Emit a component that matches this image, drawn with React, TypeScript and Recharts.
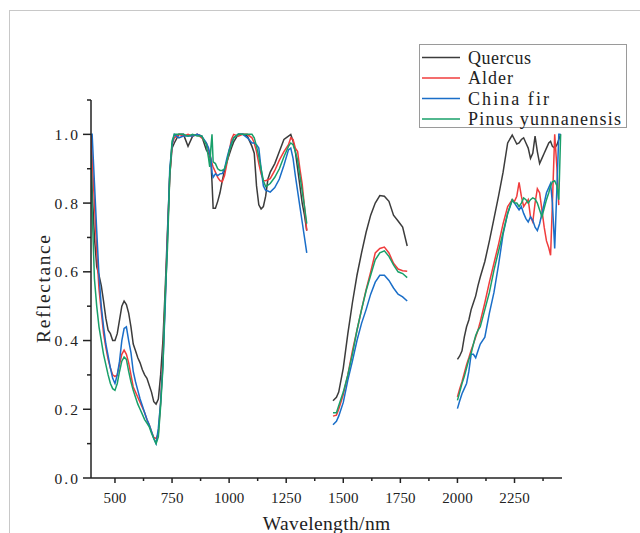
import React from 'react';
import { LineChart, Line, XAxis, YAxis, Legend, Label } from 'recharts';

const seriesKeys = ['quercus', 'alder', 'chinaFir', 'pinus'];
const seriesNames = ['Quercus', 'Alder', 'China fir', 'Pinus yunnanensis'];
const seriesColors = ['#3c3c3c', '#f03c3c', '#1a6ec8', '#18a06a'];

// Segment 1: 395 - 1340 nm
const seg1Wavelength = [
  395, 400, 410, 420, 430, 440, 450, 460, 470, 480,
  490, 500, 510, 520, 530, 540, 550, 560, 570, 580,
  590, 600, 610, 620, 630, 640, 650, 660, 670, 680,
  690, 700, 710, 720, 730, 740, 750, 760, 780, 800,
  820, 840, 860, 880, 900, 910, 915, 920, 925, 930,
  940, 950, 960, 970, 980, 990, 1000, 1010, 1020, 1040,
  1060, 1080, 1100, 1110, 1120, 1130, 1140, 1150, 1160, 1170,
  1180, 1200, 1220, 1240, 1260, 1270, 1280, 1290, 1300, 1310,
  1320, 1330, 1340,
];
const seg1Quercus = [
  1.0, 0.84, 0.7, 0.615, 0.59, 0.56, 0.515, 0.465, 0.43, 0.42,
  0.4, 0.4, 0.42, 0.46, 0.5, 0.515, 0.505, 0.48, 0.44, 0.39,
  0.37, 0.35, 0.335, 0.315, 0.3, 0.29, 0.27, 0.25, 0.222, 0.215,
  0.23, 0.3, 0.4, 0.55, 0.72, 0.88, 0.96, 0.975, 1.0, 1.0,
  0.965, 0.995, 1.0, 0.995, 0.955, 0.945, 0.935, 0.925, 0.86, 0.785,
  0.785, 0.805, 0.83, 0.865, 0.895, 0.92, 0.94, 0.96, 0.978, 1.0,
  1.0, 0.995, 0.965, 0.945, 0.85, 0.795, 0.783, 0.79, 0.82, 0.87,
  0.89, 0.915, 0.95, 0.985, 0.995, 1.0, 0.98, 0.95, 0.9, 0.85,
  0.8, 0.765, 0.72,
];
const seg1Alder = [
  1.0, 0.93, 0.8, 0.66, 0.55, 0.485, 0.42, 0.38, 0.345, 0.32,
  0.3, 0.295, 0.3, 0.33, 0.36, 0.372, 0.36, 0.335, 0.3, 0.265,
  0.25, 0.235, 0.22, 0.205, 0.19, 0.17, 0.155, 0.135, 0.118, 0.115,
  0.13, 0.22, 0.35, 0.52, 0.7, 0.88, 0.97, 0.99, 1.0, 0.995,
  1.0, 0.995, 1.0, 0.99, 0.975, 0.955, 0.94, 0.93, 0.915, 0.905,
  0.89, 0.875, 0.865, 0.862, 0.88, 0.915, 0.95, 0.985, 1.0, 0.995,
  1.0, 1.0, 0.99, 0.975, 0.95, 0.915, 0.885, 0.866, 0.865, 0.868,
  0.871, 0.895, 0.925, 0.95, 0.97, 0.99, 0.985, 0.96, 0.95, 0.9,
  0.855, 0.79, 0.72,
];
const seg1ChinaFir = [
  1.0, 1.0, 0.86, 0.72, 0.59, 0.5, 0.44, 0.39, 0.355, 0.32,
  0.29, 0.275, 0.3, 0.34, 0.4, 0.435, 0.44, 0.4, 0.365, 0.31,
  0.28, 0.255, 0.23, 0.21, 0.19, 0.17, 0.155, 0.135, 0.115, 0.1,
  0.145, 0.22, 0.33, 0.5, 0.7, 0.9, 0.97, 1.0, 0.99, 0.995,
  0.995, 0.995, 1.0, 0.995, 0.975, 0.96, 0.945, 0.93, 0.89, 0.875,
  0.885, 0.88, 0.885, 0.886, 0.9, 0.93, 0.955, 0.975, 0.99, 1.0,
  1.0, 0.99, 0.975, 0.975, 0.97, 0.96, 0.9, 0.85, 0.837, 0.835,
  0.832, 0.845, 0.87, 0.91, 0.955, 0.96, 0.93, 0.88, 0.835, 0.79,
  0.745, 0.7, 0.655,
];
const seg1Pinus = [
  0.94, 0.78, 0.58, 0.5, 0.44, 0.4, 0.36, 0.33, 0.3, 0.275,
  0.26, 0.255, 0.275, 0.31, 0.34, 0.352, 0.345, 0.31, 0.28, 0.255,
  0.235, 0.215, 0.2, 0.185, 0.17, 0.16, 0.149, 0.13, 0.115, 0.1,
  0.12, 0.21, 0.32, 0.53, 0.67, 0.88, 0.98, 1.0, 1.0, 1.0,
  0.995, 1.0, 0.995, 0.995, 0.97, 0.93, 0.905, 0.96, 1.0, 0.92,
  0.915, 0.9, 0.895, 0.895, 0.9, 0.92, 0.95, 0.97, 0.99, 1.0,
  1.0, 1.0, 1.0, 0.99, 0.965, 0.935, 0.9, 0.865, 0.848, 0.852,
  0.857, 0.875, 0.9, 0.935, 0.965, 0.975, 0.97, 0.95, 0.925, 0.88,
  0.835, 0.79, 0.74,
];

// Segment 2: 1455 - 1780 nm
const seg2Wavelength = [1455, 1470, 1480, 1500, 1520, 1540, 1560, 1580, 1600, 1620, 1640, 1660, 1680, 1700, 1720, 1740, 1760, 1780];
const seg2Quercus = [0.225, 0.235, 0.25, 0.32, 0.42, 0.51, 0.59, 0.655, 0.715, 0.765, 0.8, 0.822, 0.82, 0.805, 0.765, 0.748, 0.73, 0.675];
const seg2Alder = [0.18, 0.183, 0.2, 0.243, 0.3, 0.37, 0.43, 0.49, 0.548, 0.6, 0.655, 0.668, 0.672, 0.655, 0.625, 0.608, 0.603, 0.602];
const seg2ChinaFir = [0.155, 0.165, 0.18, 0.22, 0.285, 0.34, 0.4, 0.45, 0.49, 0.535, 0.57, 0.59, 0.59, 0.575, 0.553, 0.535, 0.527, 0.515];
const seg2Pinus = [0.19, 0.19, 0.21, 0.25, 0.3, 0.36, 0.43, 0.49, 0.545, 0.59, 0.635, 0.655, 0.661, 0.645, 0.62, 0.6, 0.595, 0.583];

// Segment 3: 2000 - 2452 nm
const seg3Wavelength = [
  2000, 2010, 2020, 2030, 2040, 2050, 2060, 2070, 2080, 2090,
  2100, 2120, 2140, 2160, 2180, 2200, 2220, 2240, 2250, 2260,
  2270, 2280, 2290, 2300, 2310, 2320, 2330, 2340, 2350, 2360,
  2370, 2380, 2390, 2400, 2408, 2416, 2426, 2436, 2444, 2452,
];
const seg3Quercus = [
  0.345, 0.355, 0.37, 0.41, 0.44, 0.46, 0.49, 0.51, 0.53, 0.56,
  0.585, 0.63, 0.69, 0.755, 0.82, 0.89, 0.975, 0.998, 0.985, 0.972,
  0.975, 0.985, 0.99, 0.975, 0.96, 0.93, 0.945, 0.995, 0.95, 0.915,
  0.93, 0.945, 0.96, 0.975, 0.98, 0.965, 0.96, 0.97, 0.985, 1.0,
];
const seg3Alder = [
  0.236, 0.26, 0.28, 0.305, 0.33, 0.35, 0.372, 0.39, 0.41, 0.43,
  0.455, 0.51, 0.57, 0.625, 0.68, 0.74, 0.79, 0.81, 0.805, 0.82,
  0.86, 0.82, 0.79, 0.8, 0.81, 0.76, 0.745, 0.8, 0.842, 0.83,
  0.78, 0.73, 0.69, 0.67, 0.648, 0.8, 1.0, 0.9, 0.794, null,
];
const seg3ChinaFir = [
  0.202, 0.225, 0.245, 0.26, 0.275, 0.31, 0.36, 0.36, 0.35, 0.37,
  0.39, 0.41, 0.48, 0.54, 0.62, 0.71, 0.77, 0.808, 0.8, 0.79,
  0.78, 0.79, 0.77, 0.755, 0.745, 0.76, 0.75, 0.73, 0.72, 0.74,
  0.77, 0.8, 0.83, 0.845, 0.857, 0.8, 0.668, 0.85, 1.0, 1.0,
];
const seg3Pinus = [
  0.226, 0.25, 0.275, 0.295, 0.32, 0.345, 0.362, 0.39, 0.415, 0.43,
  0.44, 0.49, 0.54, 0.605, 0.66, 0.715, 0.77, 0.81, 0.8, 0.8,
  0.79, 0.8, 0.815, 0.81, 0.8, 0.81, 0.815, 0.812, 0.8, 0.78,
  0.76, 0.785, 0.81, 0.83, 0.85, 0.862, 0.865, 0.85, 0.81, 1.0,
];

const xTicks = [500, 625, 750, 875, 1000, 1125, 1250, 1375, 1500, 1625, 1750, 1875, 2000, 2125, 2250, 2375];
const yTicks = [0, 0.1, 0.2, 0.3, 0.4, 0.5, 0.6, 0.7, 0.8, 0.9, 1.0, 1.1];

type Row = { w: number; quercus: number | null; alder: number | null; chinaFir: number | null; pinus: number | null };

function buildSegment(wl: number[], q: (number | null)[], a: (number | null)[], c: (number | null)[], p: (number | null)[]): Row[] {
  return wl.map((w, i) => ({ w, quercus: q[i], alder: a[i], chinaFir: c[i], pinus: p[i] }));
}
const gapRow = (w: number): Row => ({ w, quercus: null, alder: null, chinaFir: null, pinus: null });

const data: Row[] = [
  ...buildSegment(seg1Wavelength, seg1Quercus, seg1Alder, seg1ChinaFir, seg1Pinus),
  gapRow(1400),
  ...buildSegment(seg2Wavelength, seg2Quercus, seg2Alder, seg2ChinaFir, seg2Pinus),
  gapRow(1890),
  ...buildSegment(seg3Wavelength, seg3Quercus, seg3Alder, seg3ChinaFir, seg3Pinus),
];

const FONT = '"Liberation Serif", "DejaVu Serif", serif';
const INK = '#222';

// monospace-like text: each character gets a fixed advance via textLength
const MonoText = (props: any) => {
  const { text, advance, ...rest } = props;
  return (
    <text {...rest} textLength={String(text).length * advance} lengthAdjust="spacing" fontFamily={FONT} fill={INK}>
      {text}
    </text>
  );
};

const YTick = (props: any) => {
  const { x, y, payload } = props;
  const v = payload.value as number;
  const major = Math.round(v * 10) % 2 === 0;
  const len = major ? 8 : 4;
  return (
    <g>
      <line x1={x - len} x2={x} y1={y} y2={y} stroke={INK} strokeWidth={1.5} />
      {major && (
        <MonoText text={v.toFixed(1)} advance={7.8} x={x - 13} y={y} textAnchor="end" dominantBaseline="central" fontSize={15.5} />
      )}
    </g>
  );
};

const XTick = (props: any) => {
  const { x, y, payload } = props;
  const v = payload.value as number;
  const major = v % 250 === 0;
  const len = major ? 5 : 3;
  return (
    <g>
      <line x1={x} x2={x} y1={y} y2={y + len} stroke={INK} strokeWidth={1.5} />
      {major && (
        <MonoText text={String(v)} advance={7.6} x={x} y={y + 20} textAnchor="middle" dominantBaseline="central" fontSize={15} />
      )}
    </g>
  );
};

const LegendBox = () => (
  <div
    style={{
      width: 208,
      height: 84,
      border: '1px solid #9a9a9a',
      background: '#fff',
      boxSizing: 'border-box',
    }}
  >
    <svg width={206} height={82} style={{ display: 'block', overflow: 'visible' }}>
      {seriesNames.map((name, i) => {
        const cy = 12.5 + i * 20.5;
        return (
          <g key={name}>
            <line x1={2} x2={40} y1={cy} y2={cy} stroke={seriesColors[i]} strokeWidth={1.6} />
            <MonoText text={name} advance={9.0} x={48} y={cy} dominantBaseline="central" fontSize={18} />
          </g>
        );
      })}
    </svg>
  </div>
);

export default function App() {
  return (
    <div style={{ position: 'absolute', left: 0, top: 0, width: 640, height: 533, background: '#fff', overflow: 'hidden' }}>
      <div
        style={{
          position: 'absolute',
          left: 9,
          top: 10,
          width: 640,
          height: 533,
          borderLeft: '1px solid #c8c8c8',
          borderTop: '1px solid #c8c8c8',
        }}
      />
      <LineChart width={640} height={533} data={data} margin={{ top: 100, right: 78, left: 0, bottom: 0 }}>
        <XAxis
          dataKey="w"
          type="number"
          domain={[395, 2458]}
          ticks={xTicks}
          interval={0}
          allowDataOverflow
          height={55}
          tickSize={0}
          tickMargin={0}
          tickLine={false}
          axisLine={{ stroke: INK, strokeWidth: 1.5 }}
          tick={(p: any) => <XTick {...p} />}
        >
          <Label
            content={(lp: any) => {
              const vb = lp.viewBox || { x: 91, y: 478, width: 471 };
              return (
                <MonoText text="Wavelength/nm" advance={9.8} x={vb.x + vb.width / 2} y={vb.y + 45} textAnchor="middle" dominantBaseline="central" fontSize={19.5} />
              );
            }}
          />
        </XAxis>
        <YAxis
          type="number"
          domain={[0, 1.1]}
          ticks={yTicks}
          interval={0}
          allowDataOverflow
          width={91}
          tickSize={0}
          tickMargin={0}
          tickLine={false}
          axisLine={{ stroke: INK, strokeWidth: 1.5 }}
          tick={(p: any) => <YTick {...p} />}
        >
          <Label
            content={(lp: any) => {
              const vb = lp.viewBox || { x: 0, y: 100, height: 378 };
              const cx = vb.x + 43;
              const cy = vb.y + vb.height / 2;
              return (
                <MonoText text="Reflectance" advance={9.8} x={cx} y={cy} transform={`rotate(-90 ${cx} ${cy})`} textAnchor="middle" dominantBaseline="central" fontSize={19.5} />
              );
            }}
          />
        </YAxis>
        <Legend
          layout="vertical"
          align="center"
          verticalAlign="middle"
          wrapperStyle={{ left: 419, top: 44, width: 208 }}
          content={() => <LegendBox />}
        />
        {seriesKeys.map((k, i) => (
          <Line
            key={k}
            dataKey={k}
            name={seriesNames[i]}
            stroke={seriesColors[i]}
            strokeWidth={1.5}
            dot={false}
            activeDot={false}
            type="linear"
            connectNulls={false}
            isAnimationActive={false}
          />
        ))}
      </LineChart>
    </div>
  );
}
